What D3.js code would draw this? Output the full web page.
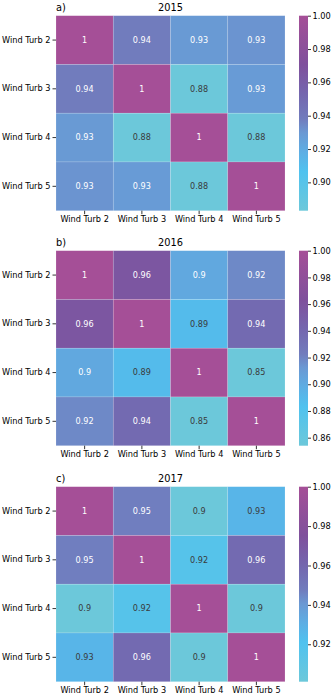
<!DOCTYPE html>
<html>
<head>
<meta charset="utf-8">
<script src="https://cdn.jsdelivr.net/npm/d3@7"></script>
<style>
  body { margin: 0; background: #fff; }
  svg { display: block; }
  text { font-family: "DejaVu Sans", sans-serif; }
</style>
</head>
<body>
<div id="chart-area"></div>
<script>
// turbines (rows and columns are the same)
var turbines = ["Wind Turb 2", "Wind Turb 3", "Wind Turb 4", "Wind Turb 5"];

// correlation matrices, one per year
var corr2015 = [[1, 0.938, 0.929, 0.931],
                [0.938, 1, 0.883, 0.928],
                [0.929, 0.883, 1, 0.883],
                [0.931, 0.928, 0.883, 1]];
var corr2016 = [[1, 0.958, 0.902, 0.918],
                [0.958, 1, 0.888, 0.938],
                [0.902, 0.888, 1, 0.854],
                [0.918, 0.938, 0.854, 1]];
var corr2017 = [[1, 0.947, 0.901, 0.927],
                [0.947, 1, 0.916, 0.958],
                [0.901, 0.916, 1, 0.901],
                [0.927, 0.958, 0.901, 1]];

var years = ["2015", "2016", "2017"];
var letters = ["a)", "b)", "c)"];
var matrices = [corr2015, corr2016, corr2017];
var cbarTicks = [[0.90, 0.92, 0.94, 0.96, 0.98, 1.00],
                 [0.86, 0.88, 0.90, 0.92, 0.94, 0.96, 0.98, 1.00],
                 [0.92, 0.94, 0.96, 0.98, 1.00]];

// colormap stops (fraction of range -> colour)
var cmapStops = [0, 0.2, 0.3, 0.4, 0.47, 0.6, 0.75, 1];
var cmapColors = ["#6cc8da", "#4fc2ef", "#5daee4", "#6a98d3", "#717cbd", "#7466ae", "#7f509c", "#a54f97"];

var W = 333, H = 694;
var svg = d3.select("#chart-area").append("svg")
    .attr("width", W)
    .attr("height", H);

var panelTops = [15.7, 250.7, 486.7];
var mapLeft = 56, mapRight = 285, mapH = 195;
var cbLeft = 299, cbW = 9;

function luminance(c) {
    var rgb = d3.rgb(c);
    var f = function(v) {
        v = v / 255;
        return v <= 0.03928 ? v / 12.92 : Math.pow((v + 0.055) / 1.055, 2.4);
    };
    return 0.2126 * f(rgb.r) + 0.7152 * f(rgb.g) + 0.0722 * f(rgb.b);
}

var fmt = d3.format(".2~r");

matrices.forEach(function(m, p) {
    var top = panelTops[p];
    var g = svg.append("g");

    var vals = d3.merge(m);
    var vmin = d3.min(vals), vmax = d3.max(vals);

    var frac = d3.scaleLinear().domain([vmin, vmax]).range([0, 1]);
    var cmap = d3.scaleLinear().domain(cmapStops).range(cmapColors)
        .interpolate(d3.interpolateRgb);
    var color = function(v) { return cmap(frac(v)); };

    var x = d3.scaleBand().domain(turbines).range([mapLeft, mapRight]);
    var y = d3.scaleBand().domain(turbines).range([top, top + mapH]);

    var cells = [];
    m.forEach(function(row, i) {
        row.forEach(function(v, j) {
            cells.push({ row: turbines[i], col: turbines[j], value: v });
        });
    });

    g.selectAll(".cell")
        .data(cells)
        .enter().append("rect")
          .attr("class", "cell")
          .attr("x", function(d) { return x(d.col); })
          .attr("y", function(d) { return y(d.row); })
          .attr("width", x.bandwidth())
          .attr("height", y.bandwidth())
          .attr("fill", function(d) { return color(d.value); })
          .attr("stroke", "rgba(255,255,255,0.25)")
          .attr("stroke-width", 0.6);

    g.selectAll(".annot")
        .data(cells)
        .enter().append("text")
          .attr("class", "annot")
          .attr("x", function(d) { return x(d.col) + x.bandwidth() / 2; })
          .attr("y", function(d) { return y(d.row) + y.bandwidth() / 2; })
          .attr("dy", "0.35em")
          .attr("text-anchor", "middle")
          .attr("font-size", 8.1)
          .attr("fill", function(d) {
              return luminance(color(d.value)) > 0.38 ? "#3a3a3a" : "#ffffff";
          })
          .text(function(d) { return fmt(d.value); });

    // axes
    var yAxis = g.append("g")
        .attr("transform", "translate(" + mapLeft + ",0)")
        .call(d3.axisLeft(y).tickSize(3.5).tickPadding(2));
    var xAxis = g.append("g")
        .attr("transform", "translate(0," + (top + mapH) + ")")
        .call(d3.axisBottom(x).tickSize(3.5).tickPadding(2));
    [xAxis, yAxis].forEach(function(ax) {
        ax.select(".domain").remove();
        ax.selectAll("text")
            .attr("font-family", "DejaVu Sans, sans-serif")
            .attr("font-size", 8.2)
            .attr("fill", "#000");
        ax.selectAll("line").attr("stroke", "#000").attr("stroke-width", 0.8);
    });

    // titles
    g.append("text")
        .attr("x", (mapLeft + mapRight) / 2)
        .attr("y", top - 4.5)
        .attr("text-anchor", "middle")
        .attr("font-size", 9.8)
        .text(years[p]);
    g.append("text")
        .attr("x", mapLeft)
        .attr("y", top - 4.5)
        .attr("font-size", 9.8)
        .text(letters[p]);

    // colorbar
    var cy = d3.scaleLinear().domain([vmin, vmax]).range([top + mapH, top]);
    var gradId = "grad" + p;
    var grad = svg.append("defs").append("linearGradient")
        .attr("id", gradId)
        .attr("x1", 0).attr("y1", 1).attr("x2", 0).attr("y2", 0);
    cmapStops.forEach(function(s, k) {
        grad.append("stop")
            .attr("offset", s)
            .attr("stop-color", cmapColors[k]);
    });
    g.append("rect")
        .attr("x", cbLeft)
        .attr("y", top)
        .attr("width", cbW)
        .attr("height", mapH)
        .attr("fill", "url(#" + gradId + ")");

    var cAxis = g.append("g")
        .attr("transform", "translate(" + (cbLeft + cbW) + ",0)")
        .call(d3.axisRight(cy).tickValues(cbarTicks[p])
            .tickFormat(d3.format(".2f")).tickSize(3).tickPadding(1.5));
    cAxis.select(".domain").remove();
    cAxis.selectAll("text")
        .attr("font-family", "DejaVu Sans, sans-serif")
        .attr("font-size", 8.2)
        .attr("fill", "#000");
    cAxis.selectAll("line").attr("stroke", "#000").attr("stroke-width", 0.8);
});
</script>
</body>
</html>
